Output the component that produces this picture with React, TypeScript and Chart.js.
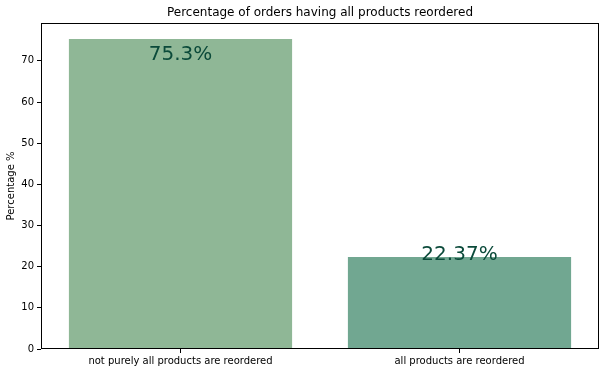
import React, { useEffect, useRef } from "react";
import { Chart, registerables } from "chart.js";

Chart.register(...registerables);

const categories = ["not purely all products are reordered", "all products are reordered"];
const percentages = [75.3, 22.37];
const valueLabels = ["75.3%", "22.37%"];
const labelBaselines = [70.1, 21.6];
const barColors = ["#8fb796", "#71a791"];
const yTicks = [0, 10, 20, 30, 40, 50, 60, 70];
const titleText = "Percentage of orders having all products reordered";
const yTitle = "Percentage %";

const FONT = "'DejaVu Sans', sans-serif";

const decor = {
  id: "decor",
  afterDraw(chart: any) {
    const { ctx, chartArea } = chart;
    const ys = chart.scales.y;
    const xs = chart.scales.x;
    ctx.save();
    // frame
    ctx.strokeStyle = "#000";
    ctx.lineWidth = 1;
    ctx.strokeRect(
      Math.round(chartArea.left) + 0.5,
      Math.round(chartArea.top) + 0.5,
      Math.round(chartArea.right - chartArea.left) - 1,
      Math.round(chartArea.bottom - chartArea.top) - 1
    );
    // value labels
    ctx.fillStyle = "#0b4a3a";
    ctx.font = `20px ${FONT}`;
    ctx.textAlign = "center";
    ctx.textBaseline = "alphabetic";
    valueLabels.forEach((t, i) => {
      ctx.fillText(t, xs.getPixelForValue(i), ys.getPixelForValue(labelBaselines[i]));
    });
    // title
    ctx.fillStyle = "#000";
    ctx.font = `12px ${FONT}`;
    ctx.textBaseline = "middle";
    ctx.fillText(titleText, (chartArea.left + chartArea.right) / 2, 12.5);
    // y title
    ctx.font = `10px ${FONT}`;
    ctx.translate(11, (chartArea.top + chartArea.bottom) / 2);
    ctx.rotate(-Math.PI / 2);
    ctx.fillText(yTitle, 0, 0);
    ctx.restore();
  },
};

export default function App() {
  const ref = useRef<HTMLCanvasElement>(null);
  useEffect(() => {
    const chart = new Chart(ref.current!, {
      type: "bar",
      data: {
        labels: categories,
        datasets: [
          {
            data: percentages,
            backgroundColor: barColors,
            borderWidth: 0,
            categoryPercentage: 0.8,
            barPercentage: 1.0,
          },
        ],
      },
      options: {
        animation: false,
        responsive: false,
        maintainAspectRatio: false,
        layout: { padding: { left: 0, right: 7, top: 23, bottom: 0 } },
        plugins: { legend: { display: false }, title: { display: false }, tooltip: { enabled: false } },
        scales: {
          x: {
            grid: { display: true, offset: false, drawOnChartArea: false, drawTicks: true, tickLength: 4, color: "#000" },
            border: { display: false },
            ticks: { color: "#000", font: { family: FONT, size: 10 }, padding: 2, maxRotation: 0 },
            afterFit: (s: any) => {
              s.height = 24;
            },
          },
          y: {
            min: 0,
            max: 79.2,
            afterBuildTicks: (s: any) => {
              s.ticks = yTicks.map((v) => ({ value: v }));
            },
            grid: { display: true, drawOnChartArea: false, drawTicks: true, tickLength: 4, color: "#000" },
            border: { display: false },
            ticks: { color: "#000", font: { family: FONT, size: 10 }, padding: 3 },
            afterFit: (s: any) => {
              s.width = 41;
            },
          },
        },
      },
      plugins: [decor],
    });
    return () => chart.destroy();
  }, []);
  return (
    <div style={{ position: "fixed", left: 0, top: 0, width: 606, height: 373, background: "#fff" }}>
      <canvas ref={ref} width={606} height={373} style={{ display: "block" }} />
    </div>
  );
}
